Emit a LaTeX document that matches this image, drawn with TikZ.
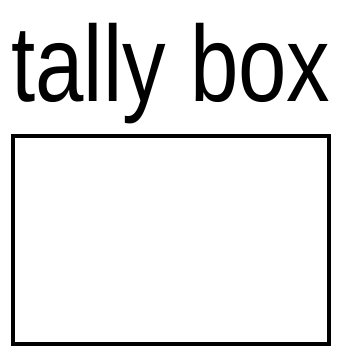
\documentclass[tikz,border=0pt]{standalone}
\usepackage{fontspec}
\setmainfont{Liberation Sans}
\usetikzlibrary{positioning}
\tikzset{
  tallybox/.style={draw, rectangle, line width=3.4pt, minimum width=316pt, minimum height=208pt},
  titletext/.style={font=\fontsize{60}{60}\selectfont, xscale=1.45, yscale=1.8, inner sep=0pt}
}
\begin{document}
\begin{tikzpicture}[x=1pt,y=1pt]
\useasboundingbox (0,0) rectangle (343,360);
\node[tallybox] (box) at (171,120) {};
\node[titletext, above=10pt of box.north] (title) {tally box};
\end{tikzpicture}
\end{document}
